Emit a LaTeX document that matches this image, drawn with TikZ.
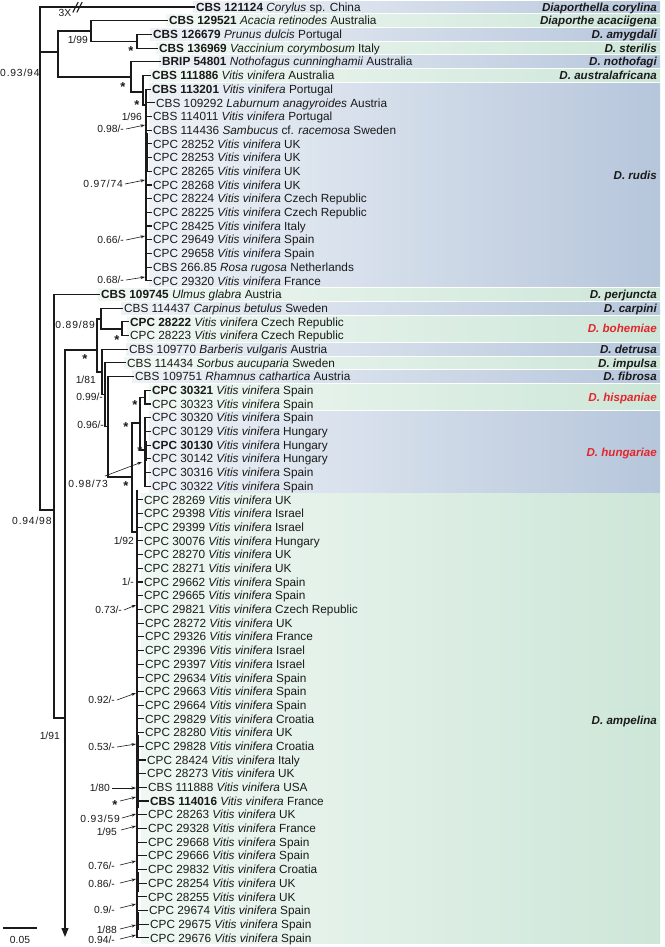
\documentclass[tikz,border=0pt]{standalone}
\usepackage{fontspec}
\setmainfont{Liberation Sans}
\newfontfamily\supf{Liberation Sans}
\newfontfamily\supw[LetterSpace=8]{Liberation Sans}
\usetikzlibrary{arrows.meta}
\definecolor{blueR}{HTML}{B6C6DB}
\definecolor{blueL}{HTML}{EEF2F7}
\definecolor{greenR}{HTML}{CDE6D8}
\definecolor{greenL}{HTML}{F0F8F3}
\definecolor{redlab}{HTML}{E3262B}
\definecolor{ink}{HTML}{1A1A1A}
\foreach \i in {1,...,69}{\pgfmathsetmacro\tmpy{7+(\i-1)*13.69}\expandafter\xdef\csname ry\i\endcsname{\tmpy}}
\newcommand\RY[1]{\csname ry#1\endcsname}
\newcommand\vv{\textit{Vitis vinifera}}
\newcommand\band[4]{\shade[left color=#1L,right color=#1R] (#4,{\RY{#2}-5.85}) rectangle (660,{\RY{#3}+5.85});}
\newcommand\tip[3]{\node[tip] (t#1) at (#2,\RY{#1}) {#3};}
\newcommand\tb[2]{\draw[br] (#2,\RY{#1}) -- ([xshift=-1.5pt]t#1.west);}
\begin{document}
\begin{tikzpicture}[x=1pt,y=-1pt,
  tip/.style={anchor=west,inner sep=0pt,text height=8.4pt,text depth=0pt,font=\fontsize{11.8}{13}\selectfont,text=ink},
  splab/.style={anchor=east,inner sep=0pt,text height=8.4pt,text depth=0pt,font=\fontsize{11.6}{13}\selectfont\bfseries\itshape,text=ink},
  redsp/.style={splab,text=redlab},
  sup/.style={inner sep=0pt,text height=7.4pt,text depth=0pt,font=\fontsize{10.3}{12}\selectfont\supf,text=ink},
  supw/.style={sup,font=\fontsize{10.3}{12}\selectfont\supw},
  star/.style={inner sep=0pt,yshift=-2.5pt,font=\fontsize{13}{13}\selectfont\bfseries,text=ink},
  br/.style={line width=1.1pt,draw=ink,line cap=rect},
  thick seg/.style={line width=2.2pt,draw=ink},
  pt/.style={line width=0.6pt,draw=ink,-{Stealth[length=4.5pt,width=3pt]}}]
\useasboundingbox (0,0) rectangle (664,947);
\fill[white] (0,0) rectangle (664,947);
% ---- bands
\band{blue}{1}{1}{193}
\band{green}{2}{2}{166}
\band{blue}{3}{3}{150}
\band{green}{4}{4}{156}
\band{blue}{5}{5}{159}
\band{green}{6}{6}{149}
\band{blue}{7}{21}{149}
\band{green}{22}{22}{98}
\band{blue}{23}{23}{121}
\band{green}{24}{25}{127}
\band{blue}{26}{26}{126}
\band{green}{27}{27}{124}
\band{blue}{28}{28}{132}
\band{green}{29}{30}{149}
\band{blue}{31}{36}{149}
\band{green}{37}{69}{141}
% ---- species labels
\node[splab] (s1) at (657,\RY{1}) {Diaporthella corylina};
\node[splab] (s2) at (657,\RY{2}) {Diaporthe acaciigena};
\node[splab] (s3) at (657,\RY{3}) {D. amygdali};
\node[splab] (s4) at (657,\RY{4}) {D. sterilis};
\node[splab] (s5) at (657,\RY{5}) {D. nothofagi};
\node[splab] (s6) at (657,\RY{6}) {D. australafricana};
\node[splab] (s7) at (657,175) {D. rudis};
\node[splab] (s8) at (657,\RY{22}) {D. perjuncta};
\node[splab] (s9) at (657,\RY{23}) {D. carpini};
\node[redsp] (s10) at (657,328.7) {D. bohemiae};
\node[splab] (s11) at (657,\RY{26}) {D. detrusa};
\node[splab] (s12) at (657,\RY{27}) {D. impulsa};
\node[splab] (s13) at (657,\RY{28}) {D. fibrosa};
\node[redsp] (s14) at (657,397.2) {D. hispaniae};
\node[redsp] (s15) at (657,452) {D. hungariae};
\node[splab] (s16) at (657,720) {D. ampelina};
% ---- tips
\tip{1}{196}{\textbf{CBS 121124} \textit{Corylus} sp. China}
\tip{2}{169}{\textbf{CBS 129521} \textit{Acacia retinodes} Australia}
\tip{3}{153}{\textbf{CBS 126679} \textit{Prunus dulcis} Portugal}
\tip{4}{159}{\textbf{CBS 136969} \textit{Vaccinium corymbosum} Italy}
\tip{5}{162}{\textbf{BRIP 54801} \textit{Nothofagus cunninghamii} Australia}
\tip{6}{152}{\textbf{CBS 111886} \vv{} Australia}
\tip{7}{152}{\textbf{CBS 113201} \vv{} Portugal}
\tip{8}{156}{CBS 109292 \textit{Laburnum anagyroides} Austria}
\tip{9}{153}{CBS 114011 \vv{} Portugal}
\tip{10}{153}{CBS 114436 \textit{Sambucus} cf. \textit{racemosa} Sweden}
\tip{11}{153}{CPC 28252 \vv{} UK}
\tip{12}{153}{CPC 28253 \vv{} UK}
\tip{13}{153}{CPC 28265 \vv{} UK}
\tip{14}{153}{CPC 28268 \vv{} UK}
\tip{15}{153}{CPC 28224 \vv{} Czech Republic}
\tip{16}{153}{CPC 28225 \vv{} Czech Republic}
\tip{17}{153}{CPC 28425 \vv{} Italy}
\tip{18}{153}{CPC 29649 \vv{} Spain}
\tip{19}{153}{CPC 29658 \vv{} Spain}
\tip{20}{153}{CBS 266.85 \textit{Rosa rugosa} Netherlands}
\tip{21}{153}{CPC 29320 \vv{} France}
\tip{22}{101}{\textbf{CBS 109745} \textit{Ulmus glabra} Austria}
\tip{23}{124}{CBS 114437 \textit{Carpinus betulus} Sweden}
\tip{24}{130}{\textbf{CPC 28222} \vv{} Czech Republic}
\tip{25}{130}{CPC 28223 \vv{} Czech Republic}
\tip{26}{129}{CBS 109770 \textit{Barberis vulgaris} Austria}
\tip{27}{127}{CBS 114434 \textit{Sorbus aucuparia} Sweden}
\tip{28}{135}{CBS 109751 \textit{Rhamnus cathartica} Austria}
\tip{29}{152}{\textbf{CPC 30321} \vv{} Spain}
\tip{30}{152}{CPC 30323 \vv{} Spain}
\tip{31}{152}{CPC 30320 \vv{} Spain}
\tip{32}{152}{CPC 30129 \vv{} Hungary}
\tip{33}{152}{\textbf{CPC 30130} \vv{} Hungary}
\tip{34}{152}{CPC 30142 \vv{} Hungary}
\tip{35}{152}{CPC 30316 \vv{} Spain}
\tip{36}{152}{CPC 30322 \vv{} Spain}
\tip{37}{144}{CPC 28269 \vv{} UK}
\tip{38}{144}{CPC 29398 \vv{} Israel}
\tip{39}{144}{CPC 29399 \vv{} Israel}
\tip{40}{144}{CPC 30076 \vv{} Hungary}
\tip{41}{144}{CPC 28270 \vv{} UK}
\tip{42}{144}{CPC 28271 \vv{} UK}
\tip{43}{144}{CPC 29662 \vv{} Spain}
\tip{44}{144}{CPC 29665 \vv{} Spain}
\tip{45}{144}{CPC 29821 \vv{} Czech Republic}
\tip{46}{145}{CPC 28272 \vv{} UK}
\tip{47}{145}{CPC 29326 \vv{} France}
\tip{48}{145}{CPC 29396 \vv{} Israel}
\tip{49}{145}{CPC 29397 \vv{} Israel}
\tip{50}{145}{CPC 29634 \vv{} Spain}
\tip{51}{145}{CPC 29663 \vv{} Spain}
\tip{52}{145}{CPC 29664 \vv{} Spain}
\tip{53}{145}{CPC 29829 \vv{} Croatia}
\tip{54}{145}{CPC 28280 \vv{} UK}
\tip{55}{145}{CPC 29828 \vv{} Croatia}
\tip{56}{147}{CPC 28424 \vv{} Italy}
\tip{57}{147}{CPC 28273 \vv{} UK}
\tip{58}{148}{CBS 111888 \vv{} USA}
\tip{59}{150}{\textbf{CBS 114016} \vv{} France}
\tip{60}{148}{CPC 28263 \vv{} UK}
\tip{61}{148}{CPC 29328 \vv{} France}
\tip{62}{148}{CPC 29668 \vv{} Spain}
\tip{63}{148}{CPC 29666 \vv{} Spain}
\tip{64}{148}{CPC 29832 \vv{} Croatia}
\tip{65}{148}{CPC 28254 \vv{} UK}
\tip{66}{148}{CPC 28255 \vv{} UK}
\tip{67}{149}{CPC 29674 \vv{} Spain}
\tip{68}{150}{CPC 29675 \vv{} Spain}
\tip{69}{150}{CPC 29676 \vv{} Spain}
% ---- tree: upper part
\draw[br] (40,\RY{1}) -- (40,510);
\tb{1}{40}
\draw[br] (73,12) -- (78,2.5); \draw[br] (77,12) -- (82,2.5);
\node[sup] (x3) at (65,13) {3X};
\draw[br] (40,52) -- (58,52);
\draw[br] (58,31) -- (58,77);
\draw[br] (58,31) -- (91,31);
\draw[br] (91,\RY{2}) -- (91,41.2);
\tb{2}{91}
\draw[br] (91,41.2) -- (137,41.2);
\draw[br] (137,\RY{3}) -- (137,\RY{4});
\tb{3}{137} \tb{4}{137}
\draw[br] (58,77) -- (131,77);
\draw[br] (131,\RY{5}) -- (131,92);
\tb{5}{131}
\draw[br] (131,92) -- (143,92);
\draw[br] (143,\RY{6}) -- (143,105);
\tb{6}{143}
\draw[br] (143,105) -- (146,105);
\draw[br] (146,\RY{7}) -- (146,\RY{21});
\foreach \i in {7,...,21}{\tb{\i}{146}}
\draw[thick seg] (146.6,133) -- (146.6,172);
% ---- tree: middle part
\draw[br] (40,510) -- (54,510);
\draw[br] (54,\RY{22}) -- (54,718);
\tb{22}{54}
\draw[br] (54,718) -- (65,718);
\draw[br,-{Triangle[length=9pt,width=7pt]}] (65,350) -- (65,937);
\draw[br] (65,350) -- (97,350);
\draw[br] (97,319) -- (97,372);
\draw[br] (97,319) -- (101,319);
\draw[br] (101,\RY{23}) -- (101,329);
\tb{23}{101}
\draw[br] (101,329) -- (122,329);
\draw[br] (122,\RY{24}) -- (122,\RY{25});
\tb{24}{122} \tb{25}{122}
\draw[br] (97,372) -- (102,372);
\draw[br] (102,\RY{26}) -- (102,394.9);
\tb{26}{102}
\draw[br] (102,394.9) -- (105,394.9);
\draw[br] (105,\RY{27}) -- (105,426.8);
\tb{27}{105}
\draw[br] (105,426.8) -- (108,426.8);
\draw[br] (108,\RY{28}) -- (108,477);
\tb{28}{108}
\draw[br] (108,477) -- (132,477);
\draw[br] (132,423) -- (132,532);
\draw[br] (132,423) -- (140,423);
\draw[br] (140,397.2) -- (140,450);
\draw[br] (140,397.2) -- (145,397.2);
\draw[br] (145,\RY{29}) -- (145,\RY{30});
\tb{29}{145} \tb{30}{145}
\draw[br] (140,450) -- (145,450);
\draw[br] (145,\RY{31}) -- (145,\RY{36});
\foreach \i in {31,...,36}{\tb{\i}{145}}
\draw[thick seg] (145.6,441) -- (145.6,461);
\draw[br] (132,532) -- (137,532);
\draw[br] (137,491) -- (137,\RY{69});
\foreach \i in {37,...,69}{\tb{\i}{137}}
\draw[thick seg] (137.6,735) -- (137.6,808);
\draw[thick seg] (137.6,872) -- (137.6,892);
\draw[thick seg] (137.6,912) -- (137.6,930);
% ---- support values
\node[supw,anchor=west] (l1) at (0,73) {0.93/94};
\node[sup,anchor=east] (l2) at (88,40) {1/99};
\node[star] (l3) at (131,49) {*};
\node[star] (l4) at (123,85) {*};
\node[star] (l5) at (137,103) {*};
\node[sup,anchor=east] (l6) at (142,117) {1/96};
\node[sup,anchor=east] (l7) at (124,129) {0.98/-};
\draw[pt] (l7.east) ++(2,0) -- (145,125);
\node[supw,anchor=east] (l8) at (123,184) {0.97/74};
\draw[pt] (l8.east) ++(2,0) -- (145,180);
\node[sup,anchor=east] (l9) at (124,240) {0.66/-};
\draw[pt] (l9.east) ++(2,0) -- (145,236);
\node[sup,anchor=east] (l10) at (124,280) {0.68/-};
\draw[pt] (l10.east) ++(2,0) -- (145,277);
\node[supw,anchor=east] (l11) at (95,325) {0.89/89};
\node[star] (l12) at (85,357) {*};
\node[star] (l13) at (117,338) {*};
\node[sup,anchor=east] (l14) at (96,380) {1/81};
\node[sup,anchor=east] (l15) at (103,397) {0.99/-};
\node[sup,anchor=east] (l16) at (104,425) {0.96/-};
\node[star] (l17) at (135,403) {*};
\node[star] (l18) at (126,425) {*};
\node[star] (l19) at (140,449) {*};
\node[supw,anchor=east] (l20) at (108,484) {0.98/73};
\draw[pt] (105,476) -- (142,462);
\node[star] (l21) at (126,484) {*};
\node[supw,anchor=west] (l22) at (12,521) {0.94/98};
\node[sup,anchor=east] (l23) at (134,541) {1/92};
\node[sup,anchor=east] (l24) at (134,582) {1/-};
\node[sup,anchor=east] (l25) at (122,610) {0.73/-};
\draw[pt] (l25.east) ++(2,0) -- (136,605);
\node[sup,anchor=east] (l26) at (115,700) {0.92/-};
\draw[pt] (l26.east) ++(2,0) -- (136,693);
\node[sup,anchor=east] (l27) at (115,747) {0.53/-};
\draw[pt] (l27.east) ++(2,0) -- (136,744);
\node[sup,anchor=east] (l28) at (60,736) {1/91};
\node[sup,anchor=east] (l29) at (110,788) {1/80};
\draw[pt] (l29.east) ++(2,0) -- (136,788);
\node[star] (l30) at (115,803) {*};
\draw[pt] (120,801) -- (136,797);
\node[supw,anchor=east] (l31) at (120,819) {0.93/59};
\draw[pt] (122,818) -- (136,814);
\node[sup,anchor=east] (l32) at (117,832) {1/95};
\draw[pt] (121,830) -- (136,826);
\node[sup,anchor=east] (l33) at (115,866) {0.76/-};
\draw[pt] (120,865) -- (136,861);
\node[sup,anchor=east] (l34) at (115,884) {0.86/-};
\draw[pt] (120,883) -- (136,879);
\node[sup,anchor=east] (l35) at (115,910) {0.9/-};
\draw[pt] (120,908) -- (136,904);
\node[sup,anchor=east] (l36) at (117,930) {1/88};
\draw[pt] (120,929) -- (136,925);
\node[sup,anchor=east] (l37) at (115,940) {0.94/-};
\draw[pt] (120,939) -- (136,935);
% ---- scale bar
\coordinate (sb1) at (3,928); \coordinate (sb2) at (37,928);
\draw[line width=1.1pt,draw=ink] (sb1) -- (sb2);
\node[sup] (sbl) at (20,940) {0.05};
\end{tikzpicture}
\end{document}
